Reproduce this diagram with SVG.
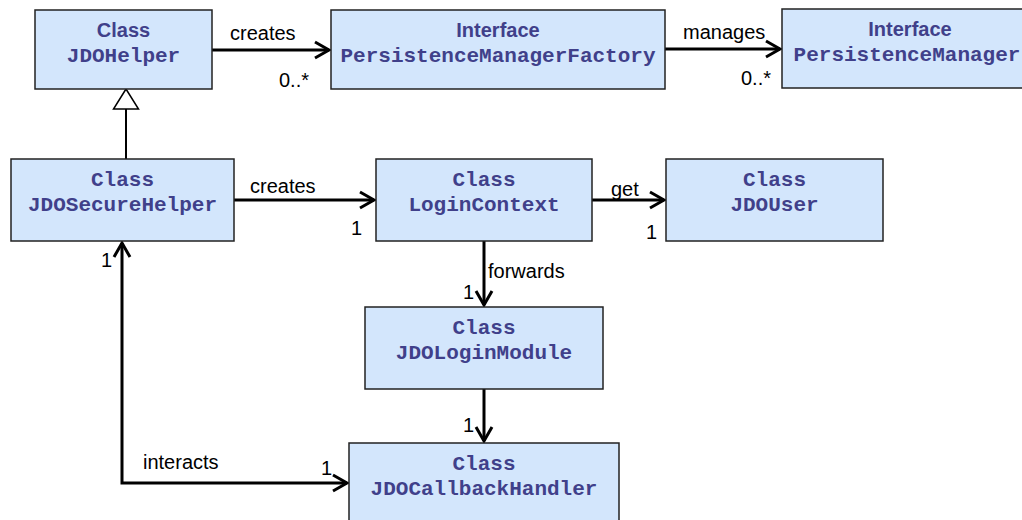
<svg xmlns="http://www.w3.org/2000/svg" width="1022" height="520" viewBox="0 0 1022 520">
<defs>
<style>
.box{fill:#d3e6fc;stroke:#222;stroke-width:1.5}
.t1{font-family:"Liberation Sans",Arial,sans-serif;font-weight:bold;font-size:20px;fill:#40408a;text-anchor:middle}
.m{font-family:"Liberation Mono","Courier New",monospace;font-weight:bold;font-size:21px;fill:#40408a;text-anchor:middle}
.lbl{font-family:"Liberation Sans",Arial,sans-serif;font-size:20px;fill:#000}
.ln{fill:none;stroke:#000;stroke-width:3}
</style>
<marker id="open" markerUnits="userSpaceOnUse" markerWidth="20" markerHeight="20" viewBox="-16 -10 20 20" refX="0" refY="0" orient="auto-start-reverse" overflow="visible">
<path d="M-14,-8 L0,0 L-14,8" fill="none" stroke="#000" stroke-width="3"/>
</marker>
</defs>
<rect width="1022" height="520" fill="#fff"/>
<g id="connectors">
<line class="ln" x1="212" y1="50" x2="329" y2="50" marker-end="url(#open)"/>
<line class="ln" x1="665" y1="49" x2="780" y2="49" marker-end="url(#open)"/>
<line x1="126" y1="109" x2="126" y2="159" stroke="#000" stroke-width="2"/>
<path d="M126,89 L113.5,109 L138.5,109 Z" fill="#fff" stroke="#000" stroke-width="1.5"/>
<line class="ln" x1="234" y1="200" x2="374" y2="200" marker-end="url(#open)"/>
<line class="ln" x1="592" y1="200" x2="664" y2="200" marker-end="url(#open)"/>
<line class="ln" x1="484" y1="241" x2="484" y2="305" marker-end="url(#open)"/>
<line class="ln" x1="484" y1="389" x2="484" y2="441" marker-end="url(#open)"/>
<polyline class="ln" points="347,483 122,483 122,243" marker-start="url(#open)" marker-end="url(#open)"/>
<text class="lbl" x="230" y="40">creates</text>
<text class="lbl" x="279" y="87">0..*</text>
<text class="lbl" x="683" y="39">manages</text>
<text class="lbl" x="741" y="85">0..*</text>
<text class="lbl" x="250" y="193">creates</text>
<text class="lbl" x="351" y="235">1</text>
<text class="lbl" x="611" y="196">get</text>
<text class="lbl" x="646" y="239">1</text>
<text class="lbl" x="488" y="278">forwards</text>
<text class="lbl" x="463" y="299">1</text>
<text class="lbl" x="463" y="432">1</text>
<text class="lbl" x="143" y="469">interacts</text>
<text class="lbl" x="321" y="475">1</text>
<text class="lbl" x="101" y="267">1</text>
</g>
<g id="jdohelper">
<rect class="box" x="35" y="10" width="177" height="79"/>
<text class="t1" x="123.5" y="37">Class</text>
<text class="m" x="123.5" y="62">JDOHelper</text>
</g>
<g id="pmfactory">
<rect class="box" x="331" y="10" width="334" height="79"/>
<text class="t1" x="498" y="37">Interface</text>
<text class="m" x="498" y="62">PersistenceManagerFactory</text>
</g>
<g id="pmanager">
<rect class="box" x="782" y="9" width="258" height="79"/>
<text class="t1" x="910" y="36">Interface</text>
<text class="m" x="907" y="61">PersistenceManager</text>
</g>
<g id="jdosecurehelper">
<rect class="box" x="11" y="159" width="223" height="82"/>
<text class="m" x="122.5" y="186">Class</text>
<text class="m" x="122.5" y="211">JDOSecureHelper</text>
</g>
<g id="logincontext">
<rect class="box" x="376" y="159" width="216" height="82"/>
<text class="m" x="484" y="186">Class</text>
<text class="m" x="484" y="211">LoginContext</text>
</g>
<g id="jdouser">
<rect class="box" x="666" y="159" width="217" height="82"/>
<text class="m" x="774.5" y="186">Class</text>
<text class="m" x="774.5" y="211">JDOUser</text>
</g>
<g id="jdologinmodule">
<rect class="box" x="365" y="307" width="238" height="82"/>
<text class="m" x="484" y="334">Class</text>
<text class="m" x="484" y="359">JDOLoginModule</text>
</g>
<g id="jdocallbackhandler">
<rect class="box" x="349" y="443" width="270" height="90"/>
<text class="m" x="484" y="470">Class</text>
<text class="m" x="484" y="495">JDOCallbackHandler</text>
</g>
</svg>
